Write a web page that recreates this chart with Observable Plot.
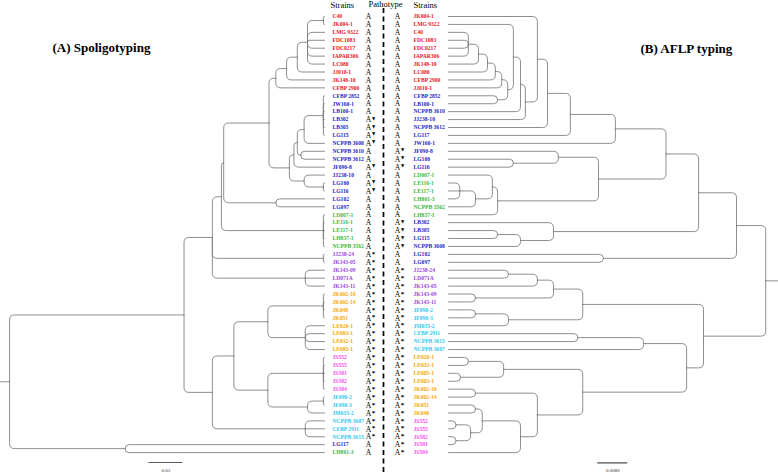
<!DOCTYPE html>
<html><head><meta charset="utf-8">
<script src="https://cdn.jsdelivr.net/npm/d3@7"></script>
<script src="https://cdn.jsdelivr.net/npm/@observablehq/plot@0.6"></script>
<style>
body{margin:0;background:#fff;}
#chart{position:relative;width:778px;height:473px;overflow:hidden;}
#chart svg{position:absolute;left:0;top:0;}
</style></head><body><div id="chart"></div>
<script>
// ---------- DATA ----------
const leftStrains = ["C40","JK004-1","LMG 9322","FDC1083","FDC0217","IAPAR306","LC080","JJ010-1","JK148-10","CFBP 2900",
 "CFBP 2852","JW160-1","LB100-1","LB302","LB305","LG115","NCPPB 3608","NCPPB 3610","NCPPB 3612","JF090-8","JJ238-10","LG100","LG116","LG102","LG097",
 "LD007-1","LE116-1","LE117-1","LH837-1","NCPPB 3562","JJ238-24","JK143-05","JK143-09","LD071A","JK143-11",
 "JK002-10","JK002-14","JK048","JK051","LE020-1","LE003-1","LE032-1","LE005-1","JS552","JS555","JS581","JS582","JS584",
 "JF090-2","JF090-3","JM035-2","NCPPB 3607","CFBP 2911","NCPPB 3615","LG117","LH801-3"];
const leftPathotype = ["A","A","A","A","A","A","A","A","A","A","A","A","A","A▼","A▼","A▼","A▼","A","A","A▼","A","A▼","A▼","A","A",
 "A","A","A","A","A","A*","A*","A*","A*","A*","A*","A*","A*","A*","A*","A*","A*","A*","A*","A*","A*","A*","A*",
 "A*","A*","A*","A*","A*","A*","A","A"];
const rightStrains = ["JK004-1","LMG 9322","C40","FDC1083","FDC0217","IAPAR306","JK148-10","LC080","CFBP 2900","JJ010-1",
 "CFBP 2852","LB100-1","NCPPB 3610","JJ238-10","NCPPB 3612","LG117","JW160-1","JF090-8","LG100","LG116",
 "LD007-1","LE116-1","LE117-1","LH801-3","NCPPB 3562","LH837-1","LB302","LB305","LG115","NCPPB 3608","LG102","LG097",
 "JJ238-24","LD071A","JK143-05","JK143-09","JK143-11","JF090-2","JF090-3","JM035-2","CFBP 2911","NCPPB 3615","NCPPB 3607",
 "LE020-1","LE032-1","LE005-1","LE003-1","JK002-10","JK002-14","JK051","JK048","JS552","JS555","JS582","JS581","JS584"];
const rightPathotype = ["A","A","A","A","A","A","A","A","A","A","A","A","A","A","A","A","A","A▼","A▼","A▼",
 "A","A","A","A","A","A","A▼","A▼","A▼","A▼","A","A",
 "A*","A*","A*","A*","A*","A*","A*","A*","A*","A*","A*","A*","A*","A*","A*","A*","A*","A*","A*","A*","A*","A*","A*","A*"];

const groupNames = ["red","blue","green","purple","orange","magenta","cyan"];
const groupColors = ["#e8141c","#1e1ec4","#3cb83c","#9a3fe0","#f5a800","#fb4cf5","#2cc8f0"];
const redStrains = ["C40","JK004-1","LMG 9322","FDC1083","FDC0217","IAPAR306","LC080","JJ010-1","JK148-10","CFBP 2900"];
const blueStrains = ["CFBP 2852","JW160-1","LB100-1","LB302","LB305","LG115","NCPPB 3608","NCPPB 3610","NCPPB 3612","JF090-8","JJ238-10","LG100","LG116","LG102","LG097","LG117"];
const greenStrains = ["LD007-1","LE116-1","LE117-1","LH837-1","NCPPB 3562","LH801-3"];
const purpleStrains = ["JJ238-24","JK143-05","JK143-09","LD071A","JK143-11"];
const orangeStrains = ["JK002-10","JK002-14","JK048","JK051","LE020-1","LE003-1","LE032-1","LE005-1"];
const magentaStrains = ["JS552","JS555","JS581","JS582","JS584"];
const cyanStrains = ["JF090-2","JF090-3","JM035-2","NCPPB 3607","CFBP 2911","NCPPB 3615"];

// trees: [node height (distance from tips), ...children]; leaves are strain names
const leftTree =
[0.278,
  [0.124,
    [0.099,
      [0.091,
        [0.089,
          [0.049,
            [0.043,
              [0.0335,
                [0.024,
                  [0.015,[0.001,"C40","JK004-1"],"LMG 9322","FDC1083","FDC0217","IAPAR306","LC080"],
                  "JJ010-1"],
                "JK148-10"],
              "CFBP 2900"],
            [0.031,
              [0.027,
                [0.024,
                  [0.018,[0.001,"CFBP 2852","JW160-1","LB100-1","LB302","LB305","LG115"],"NCPPB 3608"],
                  [0.021,"NCPPB 3610","NCPPB 3612"]],
                "JF090-8"],
              [0.018,"JJ238-10",[0.001,"LG100","LG116"]]]],
          [0.043,"LG102","LG097"]],
        [0.001,"LD007-1","LE116-1","LE117-1","LH837-1","NCPPB 3562"]],
      [0.001,"JJ238-24","JK143-05"],
      [0.017,"JK143-09","LD071A","JK143-11"]],
    [0.099,
      [0.080,
        [0.050,[0.001,"JK002-10","JK002-14","JK048","JK051"],[0.017,"LE020-1","LE003-1","LE032-1","LE005-1"]],
        [0.050,[0.001,"JS552","JS555","JS581","JS582","JS584"],[0.015,[0.001,"JF090-2","JF090-3"],"JM035-2"]]],
      [0.017,"NCPPB 3607","CFBP 2911","NCPPB 3615"]]],
  [0.176,"LG117","LH801-3"]];
const leftRootStub = 0.286;

const rightTree =
[0.0846,
  [0.0768,
    [0.0667,
      [0.058,
        [0.0445,
          [0.0325,
            [0.0264,
              [0.0237,
                "JK004-1",
                [0.0205,
                  [0.0192,
                    [0.0173,
                      "LMG 9322",
                      [0.0158,
                        [0.0142,
                          [0.0125,
                            [0.0104,
                              [0.0080,[0.0053,"C40","FDC1083","FDC0217","IAPAR306"],"JK148-10"],
                              "LC080"],
                            "CFBP 2900"],
                          "JJ010-1"],
                        [0.0131,"CFBP 2852","LB100-1"]]],
                    "NCPPB 3610"],
                  "JJ238-10"]],
              "NCPPB 3612"],
            "LG117"],
          "JW160-1"],
        [0.040,
          [0.0293,"JF090-8",[0.0173,"LG100","LG116"]],
          [0.0131,[0.0117,"LD007-1",[0.0072,[0.003,"LE116-1","LE117-1","LH801-3"],"NCPPB 3562"]],"LH837-1"]]],
      [0.028,"LB302",[0.0192,[0.0131,"LB305","LG115"],"NCPPB 3608"]]],
    [0.0413,"LG102","LG097"]],
  [0.068,
    [0.0358,
      [0.028,[0.0237,[0.016,"JJ238-24","LD071A"],"JK143-05"],[0.0072,"JK143-09","JK143-11"]],
      [0.016,[0.0072,"JF090-2","JF090-3"],"JM035-2"]],
    [0.0635,
      [0.052,[0.0345,"CFBP 2911","NCPPB 3615"],"NCPPB 3607"],
      [0.0358,
        [0.0147,[0.0053,"LE020-1","LE032-1"],[0.0032,"LE005-1","LE003-1"]],
        [0.0237,[0.0072,"JK002-10","JK002-14"],
          [0.0192,[0.009,[0.0072,"JK051","JK048"],[0.0059,[0.002,"JS552","JS555"],[0.002,"JS582","JS581"]]],"JS584"]]]]]];
const rightRootStub = 0.088;

const leftScaleBar = {label: "0.03", length: 0.03, start: 0.155};
const rightScaleBar = {label: "0.0080", length: 0.008, start: 0.0398};

// ---------- HELPERS ----------
const groupLists = [redStrains, blueStrains, greenStrains, purpleStrains, orangeStrains, magentaStrains, cyanStrains];
const colorOf = new Map();
groupLists.forEach((list, gi) => list.forEach(s => colorOf.set(s, groupColors[gi])));

function layout(tree, order, stub) {
  const idx = new Map(order.map((d, i) => [d, i]));
  const edges = []; let eid = 0;
  function walk(node) {
    if (typeof node === "string") return {h: 0, y: idx.get(node)};
    const [h, ...kids] = node;
    const ks = kids.map(walk);
    const y = (ks[0].y + ks[ks.length - 1].y) / 2;
    for (const k of ks) { edges.push({e: eid, h, y}, {e: eid, h: k.h, y: k.y}); eid++; }
    return {h, y};
  }
  const root = walk(tree);
  edges.push({e: eid, h: stub, y: root.y}, {e: eid, h: root.h, y: root.y});
  return edges;
}

// rounded elbow curve (vertical from parent, then horizontal to child)
function RoundedElbow(ctx) { this._ctx = ctx; }
RoundedElbow.prototype = {
  areaStart() {}, areaEnd() {},
  lineStart() { this._p = []; },
  point(x, y) { this._p.push([+x, +y]); },
  lineEnd() {
    const p = this._p, c = this._ctx;
    if (p.length < 2) return;
    const [x0, y0] = p[0], [x1, y1] = p[p.length - 1];
    const dy = y1 - y0, dx = x1 - x0;
    const r = Math.min(5, Math.abs(dy), Math.abs(dx));
    c.moveTo(x0, y0);
    if (r > 0.05) {
      c.lineTo(x0, y1 - Math.sign(dy) * r);
      c.quadraticCurveTo(x0, y1, x0 + Math.sign(dx) * r, y1);
    } else c.lineTo(x0, y1);
    c.lineTo(x1, y1);
  }
};
const roundedElbow = ctx => new RoundedElbow(ctx);

const rows = (names, paths) => names.map((name, i) => ({
  name, i, color: colorOf.get(name) || "#000",
  base: paths[i][0], sup: paths[i].slice(1)
}));
const leftRows = rows(leftStrains, leftPathotype);
const rightRows = rows(rightStrains, rightPathotype);
const tri = r => r.sup === "▼", star = r => r.sup === "*";

const serif = "'Liberation Serif', 'Times New Roman', serif";
const lineColor = "#7a7a7a";
const yScale = {domain: [0, 55], range: [16, 452.1], axis: null};

function centreMarks(rowsData, labelDx, pathDx) {
  return [
    Plot.text(rowsData, {x: () => 0, y: "i", text: "name", fill: "color", dx: labelDx, textAnchor: "start", fontSize: 5.6, fontWeight: "bold", fontFamily: serif}),
    Plot.text(rowsData, {x: () => 0, y: "i", text: "base", fill: "#000", dx: pathDx, dy: 0.3, fontSize: 7.6, fontFamily: serif}),
    Plot.text(rowsData.filter(tri), {x: () => 0, y: "i", text: "sup", fill: "#000", dx: pathDx + 5.2, dy: -1.3, fontSize: 4.2, fontFamily: "'DejaVu Sans', sans-serif"}),
    Plot.text(rowsData.filter(star), {x: () => 0, y: "i", text: "sup", fill: "#000", dx: pathDx + 5, dy: -0.6, fontSize: 7, fontWeight: "bold", fontFamily: serif})
  ];
}

// ---------- LEFT PLOT ----------
const left = Plot.plot({
  width: 778, height: 473, margin: 0,
  x: {domain: [leftRootStub, 0], range: [0, 324], axis: null},
  y: yScale,
  color: {type: "identity"},
  style: {background: "none", overflow: "visible"},
  marks: [
    Plot.line(layout(leftTree, leftStrains, leftRootStub), {x: "h", y: "y", z: "e", curve: roundedElbow, stroke: lineColor, strokeWidth: 0.85}),
    ...centreMarks(leftRows, 8, 44),
    Plot.ruleX([0], {dx: 59, y1: -1, y2: 57.6, stroke: "#000", strokeWidth: 1.7, strokeDasharray: "5,3.5"}),
    Plot.text(["Strains"], {x: 0, y: -1.4, dx: 6, textAnchor: "start", fontSize: 8.5, fontFamily: serif}),
    Plot.text(["Pathotype"], {x: 0, y: -1.55, dx: 61, fontSize: 8.5, fontFamily: serif}),
    Plot.text(["(A) Spoligotyping"], {frameAnchor: "top-left", dx: 52, dy: 42, textAnchor: "start", fontSize: 13, fontWeight: "bold", fontFamily: serif}),
    Plot.ruleY([56.25], {x1: leftScaleBar.start, x2: leftScaleBar.start - leftScaleBar.length, stroke: "#333", strokeWidth: 0.8}),
    Plot.text([leftScaleBar.label], {x: leftScaleBar.start - leftScaleBar.length / 2, y: 57.2, fontSize: 5, fontFamily: serif, fill: "#333"})
  ]
});

// ---------- RIGHT PLOT ----------
const right = Plot.plot({
  width: 778, height: 473, margin: 0,
  x: {domain: [0, rightRootStub], range: [448, 778], axis: null},
  y: yScale,
  color: {type: "identity"},
  style: {background: "none", overflow: "visible"},
  marks: [
    Plot.line(layout(rightTree, rightStrains, rightRootStub), {x: "h", y: "y", z: "e", curve: roundedElbow, stroke: lineColor, strokeWidth: 0.85}),
    ...centreMarks(rightRows, -35, -51),
    Plot.text(["Strains"], {x: 0, y: -1.4, dx: -35, textAnchor: "start", fontSize: 8.5, fontFamily: serif}),
    Plot.text(["(B) AFLP typing"], {frameAnchor: "top-left", dx: 640, dy: 43, textAnchor: "start", fontSize: 13, fontWeight: "bold", fontFamily: serif}),
    Plot.ruleY([56.3], {x1: rightScaleBar.start, x2: rightScaleBar.start + rightScaleBar.length, stroke: "#222", strokeWidth: 1}),
    Plot.text([rightScaleBar.label], {x: rightScaleBar.start + rightScaleBar.length / 2, y: 57.2, fontSize: 5, fontFamily: serif, fill: "#333"})
  ]
});

const chart = document.getElementById("chart");
chart.appendChild(left);
chart.appendChild(right);
</script></body></html>
